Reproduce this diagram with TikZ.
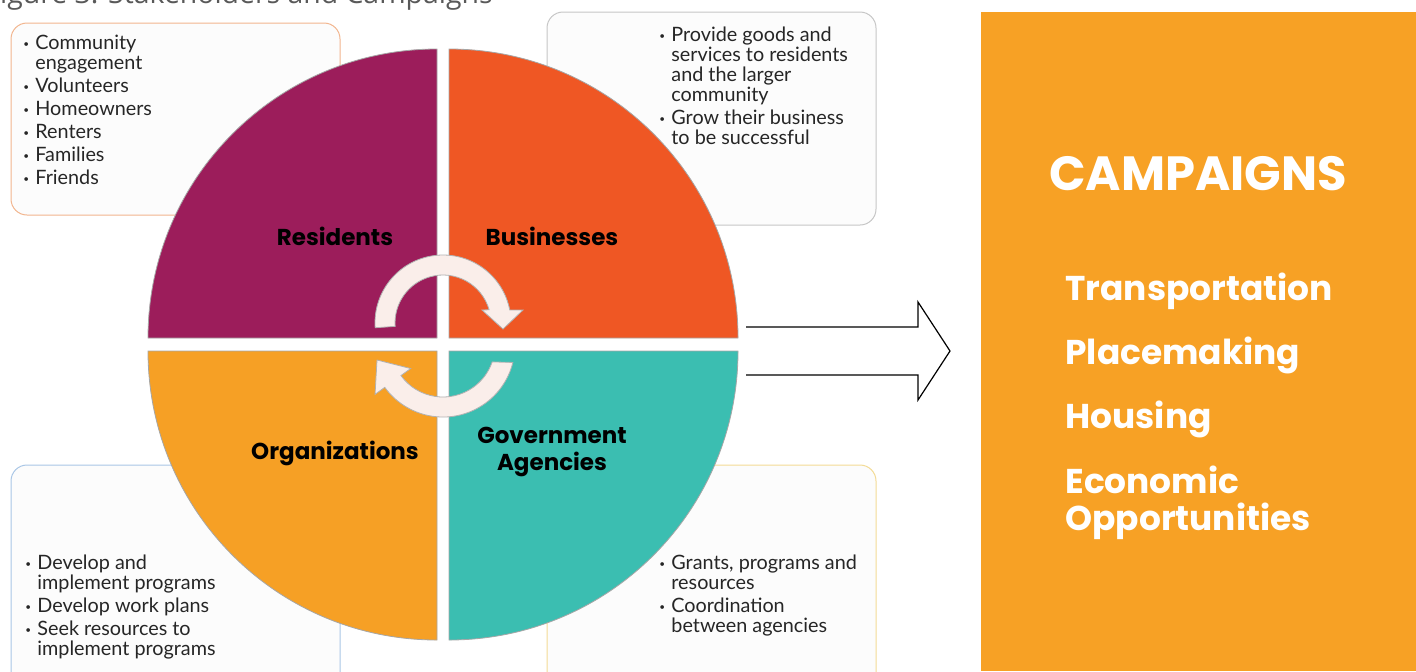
\documentclass[tikz,border=0pt]{standalone}
\usepackage{fontspec}
\setmainfont{Lato}
\newfontfamily\headfont{Poppins}
\newfontfamily\capfont{Open Sans}
\usetikzlibrary{positioning}

\definecolor{resColor}{HTML}{9C1D5B}
\definecolor{busColor}{HTML}{EF5724}
\definecolor{orgColor}{HTML}{F6A025}
\definecolor{govColor}{HTML}{3BBEB1}
\definecolor{campColor}{HTML}{F7A125}
\definecolor{boxFill}{HTML}{FCFCFC}
\definecolor{cycleFill}{HTML}{FAEEEA}

\newcommand{\bul}{\makebox[6pt][l]{\raisebox{0.15ex}{\fontsize{5}{5}\selectfont\textbullet}}}
\newcommand{\ind}{\hspace*{6pt}}

\tikzset{
  infobox/.style={fill=boxFill, rounded corners=8pt, line width=0.5pt},
  quad/.style={draw=gray!70, line width=0.4pt},
  quadlabel/.style={font=\headfont\bfseries\fontsize{11.5}{13.5}\selectfont, align=center, inner sep=0pt},
  listtext/.style={anchor=base west, inner sep=0pt, align=left, text=black!85, font=\fontsize{9.9}{10}\selectfont},
  cyclearrow/.style={fill=cycleFill, draw=gray!60, line width=0.4pt},
  camptext/.style={text=white, anchor=base west, inner sep=0pt, align=left, font=\headfont\bfseries\fontsize{17.2}{18.5}\selectfont}
}

\begin{document}
\begin{tikzpicture}[x=0.5pt,y=-0.5pt]
\useasboundingbox (0,0) rectangle (1416,671);

\node[anchor=base east, inner sep=0pt, text=black!65, font=\capfont\fontsize{14.2}{14.2}\selectfont] (figTitle) at (493,3) {Figure 3: Stakeholders and Campaigns};

% boxes behind the wheel
\draw[infobox, draw={rgb,255:red,242;green,181;blue,142}] (11,23) rectangle (340,215); %residents
\draw[infobox, draw=gray!45] (547,12) rectangle (876,225); %businesses
\draw[infobox, draw={rgb,255:red,169;green,198;blue,230}] (11,465) rectangle (340,700); %organizations
\draw[infobox, draw={rgb,255:red,243;green,219;blue,149}] (547,465) rectangle (876,700); %agencies

% lists, placed by the baseline of their last line
\node[listtext] (resList) at (23,184) {\bul Community\\ \ind engagement\\[1.5pt] \bul Volunteers\\[1.5pt] \bul Homeowners\\[1.5pt] \bul Renters\\[1.5pt] \bul Families\\[1.5pt] \bul Friends};
\node[listtext] (busList) at (659,144) {\bul Provide goods and\\ \ind services to residents\\ \ind and the larger\\ \ind community\\[1.5pt] \bul Grow their business\\ \ind to be successful};
\node[listtext] (orgList) at (25,655) {\bul Develop and\\ \ind implement programs\\[1.5pt] \bul Develop work plans\\[1.5pt] \bul Seek resources to\\ \ind implement programs};
\node[listtext] (govList) at (659,632) {\bul Grants, programs and\\ \ind resources\\[1.5pt] \bul Coordination\\ \ind between agencies};

% four quarters
\draw[quad, fill=resColor] (437,338) -- ++(180:289) arc[start angle=180, end angle=270, radius=289] -- cycle;
\draw[quad, fill=busColor] (449,338) -- ++(270:289) arc[start angle=270, end angle=360, radius=289] -- cycle;
\draw[quad, fill=govColor] (449,351) -- ++(0:289) arc[start angle=0, end angle=90, radius=289] -- cycle;
\draw[quad, fill=orgColor] (437,351) -- ++(90:289) arc[start angle=90, end angle=180, radius=289] -- cycle;

\node[quadlabel] (resLabel) at (335,236) {Residents};
\node[quadlabel] (busLabel) at (552,236) {Businesses};
\node[quadlabel] (orgLabel) at (335,453) {Organizations};
\node[quadlabel] (govLabel) at (552,452) {Government\\Agencies};

% cycle arrows in the middle
\begin{scope}[shift={(443,323)}]
\draw[cyclearrow] (176:68) arc[start angle=176, end angle=349, radius=68] -- (80,-13) -- (60,6) -- (39,-13) -- (344:48) arc[start angle=344, end angle=176, radius=48] -- cycle;
\end{scope}
\begin{scope}[shift={(443,345)}]
\draw[cyclearrow] (14:72) arc[start angle=14, end angle=144, radius=72] -- (144:84) -- (-66,15) -- (144:40) -- (144:52) arc[start angle=144, end angle=19, radius=52] -- cycle;
\end{scope}

% block arrow to the campaigns
\draw[line width=0.6pt, line join=miter] (746,327) -- (918,327) -- (918,302) -- (950,351) -- (918,400) -- (918,375) -- (746,375);

\fill[campColor] (981,12) rectangle (1416,671);
\node[anchor=base, inner sep=0pt, text=white, font=\headfont\bfseries\fontsize{24}{24}\selectfont] (campTitle) at (1198,190) {CAMPAIGNS};
\node[camptext] (campTrans) at (1065,300) {Transportation};
\node[camptext] (campPlace) at (1065,364) {Placemaking};
\node[camptext] (campHouse) at (1065,428) {Housing};
\node[camptext] (campEcon) at (1065,530) {Economic\\Opportunities};
\end{tikzpicture}
\end{document}
